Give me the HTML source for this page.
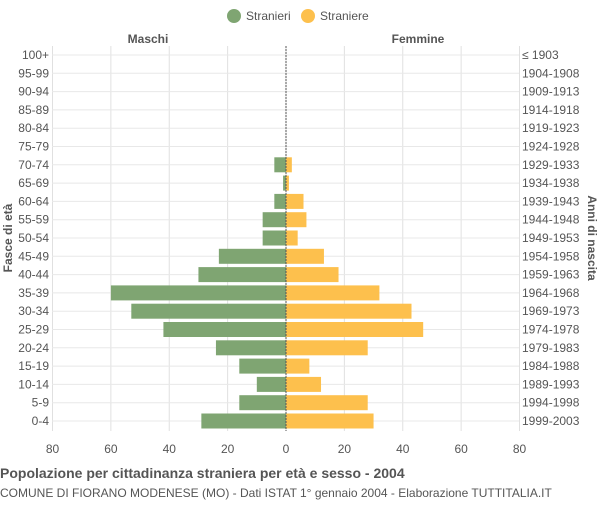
<!DOCTYPE html>
<html><head><meta charset="utf-8"><style>
body{margin:0;background:#fff;font-family:"Liberation Sans",sans-serif;}
svg text{font-family:"Liberation Sans",sans-serif;}
</style></head><body>
<svg width="600" height="500" xmlns="http://www.w3.org/2000/svg">
<g id="legend">
 <circle cx="234" cy="16" r="7" fill="#7fa572"/>
 <text x="246" y="20" font-size="12" fill="#555">Stranieri</text>
 <circle cx="308" cy="16" r="7" fill="#fdc04d"/>
 <text x="320" y="20" font-size="12" fill="#555">Straniere</text>
</g>
<text x="148" y="43" font-size="12" font-weight="bold" fill="#555" text-anchor="middle">Maschi</text>
<text x="418" y="43" font-size="12" font-weight="bold" fill="#555" text-anchor="middle">Femmine</text>
<g id="grid"></g><g id="bars"></g><g id="labels"></g>
<text x="12" y="238" font-size="12" font-weight="bold" fill="#555" text-anchor="middle" transform="rotate(-90 12 238)">Fasce di età</text>
<text x="588" y="238" font-size="12" font-weight="bold" fill="#555" text-anchor="middle" transform="rotate(90 588 238)">Anni di nascita</text>
<text x="0" y="478" font-size="14" font-weight="bold" fill="#555">Popolazione per cittadinanza straniera per età e sesso - 2004</text>
<text x="0" y="497" font-size="12" fill="#555">COMUNE DI FIORANO MODENESE (MO) - Dati ISTAT 1° gennaio 2004 - Elaborazione TUTTITALIA.IT</text>
</svg>
<script>
const ages=["100+","95-99","90-94","85-89","80-84","75-79","70-74","65-69","60-64","55-59","50-54","45-49","40-44","35-39","30-34","25-29","20-24","15-19","10-14","5-9","0-4"];
const years=["≤ 1903","1904-1908","1909-1913","1914-1918","1919-1923","1924-1928","1929-1933","1934-1938","1939-1943","1944-1948","1949-1953","1954-1958","1959-1963","1964-1968","1969-1973","1974-1978","1979-1983","1984-1988","1989-1993","1994-1998","1999-2003"];
const males=[0,0,0,0,0,0,4,1,4,8,8,23,30,60,53,42,24,16,10,16,29];
const females=[0,0,0,0,0,0,2,1,6,7,4,13,18,32,43,47,28,8,12,28,30];
const xTicks=[80,60,40,20,0,20,40,60,80];
const NS="http://www.w3.org/2000/svg";
const cx=286,scale=233.5/80,top0=55,step=18.3,bh=15;
const X=v=>cx+v*scale, Y=i=>top0+i*step;
function mk(t,a,p){const e=document.createElementNS(NS,t);for(const k in a)e.setAttribute(k,a[k]);p.appendChild(e);return e;}
const g=document.getElementById('grid'),b=document.getElementById('bars'),l=document.getElementById('labels');
xTicks.forEach((t,i)=>{const v=(i-4)*20;const x=X(v);
 const ln=mk('line',{x1:x,x2:x,y1:46,y2:431,stroke:'#e0e0e0'},g);
 
 const tx=mk('text',{x:x,y:453,'font-size':12,fill:'#555','text-anchor':'middle'},l);tx.textContent=t;
 });
ages.forEach((a,i)=>{const y=Y(i);
 const ln=mk('line',{x1:52,x2:519,y1:y,y2:y,stroke:'#e8e8e8'},g);
 
 const m=mk('rect',{x:X(-males[i]),y:y-bh/2,width:males[i]*scale,height:bh,fill:'#7fa572'},b);
 
 const f=mk('rect',{x:cx,y:y-bh/2,width:females[i]*scale,height:bh,fill:'#fdc04d'},b);
 
 const t1=mk('text',{x:49,y:y+4,'font-size':12,fill:'#555','text-anchor':'end'},l);t1.textContent=a;
 
 const t2=mk('text',{x:522,y:y+4,'font-size':12,fill:'#555'},l);t2.textContent=years[i];
 });
const c=mk('line',{x1:cx,x2:cx,y1:46,y2:431,stroke:'#555','stroke-dasharray':'2,1'},b);

</script>
</body></html>
